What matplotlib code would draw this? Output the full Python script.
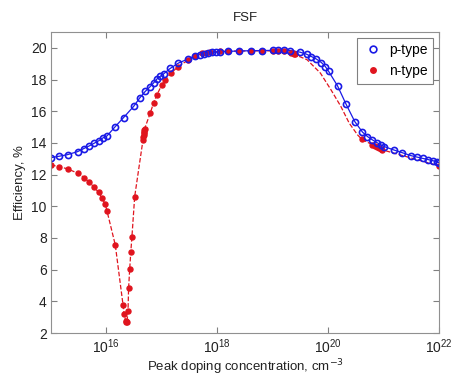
import matplotlib
matplotlib.use("Agg")
import matplotlib.pyplot as plt
import numpy as np

plt.rcParams['font.family'] = ['Liberation Sans', 'DejaVu Sans']

# log10 of peak doping, efficiency in %
p_logx = [15.0, 15.15, 15.30, 15.48, 15.59, 15.69, 15.78, 15.86, 15.93, 16.01,
          16.16, 16.31, 16.49, 16.60, 16.70, 16.78, 16.85, 16.91, 16.97, 17.03,
          17.15, 17.30, 17.48, 17.60, 17.68, 17.76, 17.83, 17.90, 17.97, 18.05,
          18.2, 18.4, 18.6, 18.8, 19.0, 19.1, 19.2, 19.32, 19.49, 19.61, 19.70,
          19.79, 19.88, 19.95, 20.01, 20.17, 20.32, 20.48, 20.62, 20.71, 20.80,
          20.88, 20.95, 21.01, 21.18, 21.33, 21.49, 21.61, 21.71, 21.80, 21.89,
          21.97, 22.0]
p_eff = [13.07, 13.16, 13.26, 13.45, 13.64, 13.81, 13.98, 14.13, 14.30, 14.44,
         15.03, 15.60, 16.30, 16.83, 17.25, 17.52, 17.78, 18.03, 18.20, 18.35,
         18.70, 19.04, 19.31, 19.50, 19.58, 19.64, 19.68, 19.72, 19.72, 19.75,
         19.78, 19.80, 19.82, 19.83, 19.84, 19.84, 19.84, 19.83, 19.73, 19.60, 19.45,
         19.29, 19.07, 18.82, 18.51, 17.60, 16.47, 15.35, 14.68, 14.40, 14.19,
         14.02, 13.88, 13.77, 13.56, 13.39, 13.20, 13.10, 13.02, 12.95, 12.88,
         12.78, 12.75]

n_logx = [15.0, 15.15, 15.30, 15.48, 15.60, 15.69, 15.78, 15.86, 15.92, 15.98,
          16.01, 16.16, 16.30, 16.32, 16.35, 16.36, 16.37, 16.39, 16.40, 16.42,
          16.44, 16.46, 16.51, 16.66, 16.665, 16.67, 16.675, 16.68, 16.685, 16.69,
          16.79, 16.85, 16.91, 17.00, 17.06, 17.16, 17.30, 17.48, 17.60, 17.72,
          17.80, 17.86, 18.05, 18.2, 18.4, 18.6, 18.8, 19.0, 19.1, 19.2,
          19.33, 19.36, 19.38, 19.40, 20.61, 20.80, 20.84, 20.88, 20.92, 20.96,
          20.98, 22.0]
n_eff = [12.61, 12.50, 12.36, 12.09, 11.81, 11.52, 11.20, 10.87, 10.51, 10.13,
         9.71, 7.56, 3.77, 3.18, 2.75, 2.68, 2.68, 3.41, 4.82, 6.02,
         7.13, 8.05, 10.61, 14.19, 14.35, 14.5, 14.6, 14.7, 14.8, 14.9,
         15.88, 16.51, 17.03, 17.66, 17.98, 18.40, 18.82, 19.25, 19.50, 19.65,
         19.70, 19.74, 19.77, 19.79, 19.80, 19.81, 19.81, 19.81, 19.80, 19.80,
         19.70, 19.66, 19.62, 19.60, 14.22, 13.88, 13.80, 13.72, 13.66, 13.60,
         13.56, 12.55]

# dashed n-type curve between the sparse points (no markers there)
n_gap_logx = [19.41, 19.62, 19.86, 20.05, 20.23, 20.38, 20.53]
n_gap_eff = [19.56, 19.25, 18.41, 17.36, 16.30, 15.25, 14.51]

p_x = 10.0 ** np.array(p_logx)
n_x = 10.0 ** np.array(n_logx)

curve_logx = np.array(n_logx + n_gap_logx)
curve_eff = np.array(n_eff + n_gap_eff)
order = np.argsort(curve_logx, kind='stable')
curve_x = 10.0 ** curve_logx[order]
curve_eff = curve_eff[order]

fig = plt.figure(figsize=(4.52, 3.77), dpi=100)
ax = fig.add_axes([0.1128, 0.1167, 0.8584, 0.7984])

ax.plot(curve_x, curve_eff, '--', color='#e0141e', lw=0.9)
ax.plot(p_x, p_eff, '-', color='#1a1ae6', lw=0.9)
ax.plot(n_x, n_eff, 'o', ls='none', color='#e0141e', mfc='#e0141e', ms=3.6, label='n-type')
ax.plot(p_x, p_eff, 'o', ls='none', color='#1a1ae6', mfc='none', mew=1.2, ms=4.4, label='p-type')

ax.set_xscale('log')
ax.set_xlim(1e15, 1e22)
ax.set_ylim(2, 21)
ax.set_xticks([1e16, 1e18, 1e20, 1e22])
ax.xaxis.set_minor_locator(matplotlib.ticker.NullLocator())
ax.set_yticks(range(2, 21, 2))
ax.tick_params(direction='in', top=True, right=True, length=4, color='#808080',
               labelsize=10, colors='#222222', pad=3)
for s in ax.spines.values():
    s.set_color('#909090')

ax.set_title('FSF', fontsize=9.5, color='#222222', pad=8)
ax.set_xlabel('Peak doping concentration, cm$^{-3}$', fontsize=9.5, color='#222222', labelpad=1)
ax.set_ylabel('Efficiency, %', fontsize=9.5, color='#222222', labelpad=4)

h, l = ax.get_legend_handles_labels()
leg = ax.legend([h[1], h[0]], [l[1], l[0]], loc='upper right', fontsize=10,
                fancybox=False, edgecolor='#808080', handletextpad=0.4,
                handlelength=1.5, borderaxespad=0.4, framealpha=1, markerscale=1.1)
leg.get_frame().set_linewidth(0.8)

fig.savefig('out.png', dpi=100)
